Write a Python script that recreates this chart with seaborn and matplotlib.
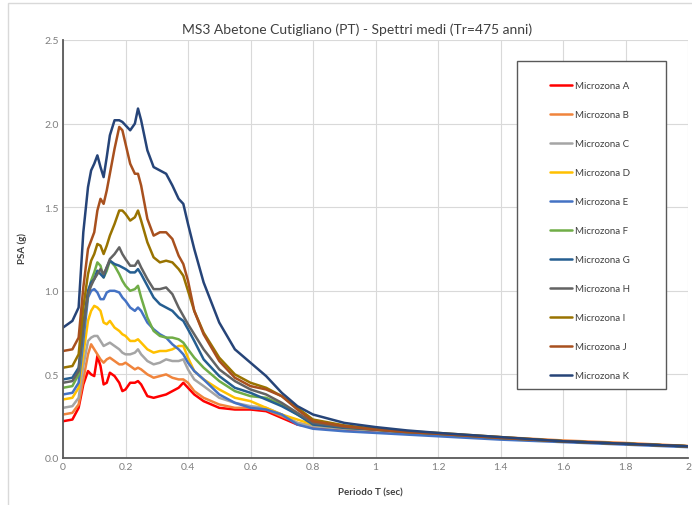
import numpy as np
import pandas as pd
import matplotlib
matplotlib.use("Agg")
import matplotlib.pyplot as plt
from matplotlib.patches import Rectangle
import seaborn as sns

# Periods (s)
periodo = [0, 0.03, 0.05, 0.065, 0.08, 0.09, 0.10, 0.11, 0.12, 0.13, 0.14, 0.15, 0.165,
           0.18, 0.19, 0.20, 0.215, 0.23, 0.24, 0.25, 0.27, 0.29, 0.31, 0.33, 0.35, 0.37,
           0.385, 0.40, 0.42, 0.45, 0.50, 0.55, 0.60, 0.65, 0.70, 0.75, 0.80, 0.90, 1.0,
           1.1, 1.2, 1.4, 1.6, 1.8, 2.0]

# Mean spectral accelerations PSA (g) for each microzone
mz_a = [0.22, 0.23, 0.30, 0.44, 0.52, 0.50, 0.49, 0.61, 0.55, 0.44, 0.45, 0.51, 0.49,
        0.45, 0.40, 0.41, 0.45, 0.45, 0.46, 0.44, 0.37, 0.36, 0.37, 0.38, 0.40, 0.42,
        0.45, 0.42, 0.38, 0.34, 0.30, 0.29, 0.29, 0.28, 0.24, 0.20, 0.185, 0.17, 0.16,
        0.145, 0.14, 0.12, 0.10, 0.085, 0.07]
mz_b = [0.26, 0.27, 0.32, 0.47, 0.62, 0.68, 0.65, 0.62, 0.59, 0.57, 0.59, 0.60, 0.58,
        0.56, 0.56, 0.57, 0.55, 0.53, 0.54, 0.53, 0.50, 0.48, 0.49, 0.50, 0.48, 0.47,
        0.47, 0.45, 0.40, 0.36, 0.32, 0.30, 0.30, 0.29, 0.25, 0.21, 0.19, 0.175, 0.165,
        0.155, 0.145, 0.125, 0.105, 0.09, 0.072]
mz_c = [0.30, 0.31, 0.36, 0.55, 0.70, 0.72, 0.73, 0.73, 0.70, 0.67, 0.68, 0.69, 0.67,
        0.65, 0.63, 0.62, 0.62, 0.63, 0.65, 0.62, 0.58, 0.56, 0.57, 0.59, 0.58, 0.58,
        0.59, 0.53, 0.47, 0.43, 0.36, 0.33, 0.31, 0.30, 0.26, 0.21, 0.19, 0.175, 0.165,
        0.15, 0.14, 0.12, 0.10, 0.085, 0.07]
mz_d = [0.35, 0.36, 0.42, 0.62, 0.82, 0.88, 0.91, 0.90, 0.88, 0.81, 0.80, 0.82, 0.78,
        0.76, 0.74, 0.73, 0.70, 0.70, 0.71, 0.69, 0.65, 0.63, 0.64, 0.64, 0.65, 0.67,
        0.67, 0.60, 0.52, 0.47, 0.41, 0.36, 0.34, 0.30, 0.26, 0.23, 0.20, 0.18, 0.17,
        0.155, 0.145, 0.12, 0.10, 0.085, 0.07]
mz_e = [0.38, 0.39, 0.45, 0.70, 0.96, 1.00, 1.01, 0.99, 0.95, 0.95, 0.99, 1.00, 1.00,
        0.99, 0.96, 0.94, 0.90, 0.88, 0.90, 0.88, 0.81, 0.77, 0.74, 0.72, 0.68, 0.65,
        0.62, 0.57, 0.52, 0.47, 0.38, 0.33, 0.30, 0.29, 0.26, 0.20, 0.175, 0.16, 0.15,
        0.14, 0.13, 0.11, 0.095, 0.08, 0.065]
mz_f = [0.42, 0.43, 0.50, 0.78, 0.98, 1.06, 1.11, 1.17, 1.15, 1.08, 1.12, 1.18, 1.15,
        1.10, 1.06, 1.03, 1.00, 1.01, 1.03, 0.96, 0.84, 0.76, 0.73, 0.72, 0.72, 0.71,
        0.69, 0.65, 0.60, 0.54, 0.46, 0.40, 0.37, 0.36, 0.32, 0.26, 0.21, 0.185, 0.17,
        0.155, 0.145, 0.12, 0.10, 0.085, 0.07]
mz_g = [0.47, 0.48, 0.54, 0.80, 1.00, 1.05, 1.07, 1.12, 1.10, 1.08, 1.14, 1.18, 1.16,
        1.15, 1.14, 1.13, 1.11, 1.11, 1.13, 1.10, 1.03, 0.96, 0.92, 0.90, 0.88, 0.84,
        0.82, 0.77, 0.70, 0.59, 0.49, 0.42, 0.39, 0.35, 0.31, 0.26, 0.20, 0.18, 0.17,
        0.155, 0.145, 0.12, 0.10, 0.085, 0.07]
mz_h = [0.45, 0.46, 0.52, 0.78, 0.98, 1.03, 1.07, 1.10, 1.13, 1.10, 1.14, 1.19, 1.22,
        1.26, 1.22, 1.19, 1.15, 1.15, 1.18, 1.14, 1.07, 1.01, 1.01, 1.02, 0.98, 0.90,
        0.85, 0.80, 0.74, 0.65, 0.53, 0.46, 0.41, 0.38, 0.33, 0.27, 0.21, 0.185, 0.17,
        0.155, 0.145, 0.12, 0.10, 0.085, 0.07]
mz_i = [0.54, 0.55, 0.62, 0.90, 1.10, 1.18, 1.22, 1.28, 1.27, 1.22, 1.27, 1.33, 1.40,
        1.48, 1.48, 1.46, 1.42, 1.44, 1.48, 1.42, 1.29, 1.20, 1.17, 1.18, 1.17, 1.13,
        1.09, 1.00, 0.88, 0.75, 0.60, 0.50, 0.45, 0.42, 0.37, 0.30, 0.23, 0.195, 0.175,
        0.16, 0.15, 0.125, 0.10, 0.085, 0.07]
mz_j = [0.64, 0.65, 0.72, 1.02, 1.25, 1.30, 1.35, 1.48, 1.55, 1.52, 1.60, 1.70, 1.85,
        1.98, 1.96, 1.88, 1.76, 1.70, 1.70, 1.63, 1.43, 1.33, 1.35, 1.35, 1.31, 1.21,
        1.16, 1.06, 0.88, 0.74, 0.58, 0.48, 0.43, 0.41, 0.37, 0.29, 0.22, 0.19, 0.17,
        0.155, 0.145, 0.12, 0.10, 0.085, 0.07]
mz_k = [0.78, 0.82, 0.90, 1.35, 1.62, 1.72, 1.76, 1.81, 1.74, 1.68, 1.80, 1.93, 2.02,
        2.02, 2.01, 1.99, 1.96, 2.00, 2.09, 2.02, 1.84, 1.74, 1.72, 1.70, 1.63, 1.55,
        1.52, 1.40, 1.25, 1.05, 0.81, 0.65, 0.57, 0.49, 0.39, 0.31, 0.26, 0.21, 0.185,
        0.165, 0.15, 0.125, 0.10, 0.085, 0.07]

zone_names = ["Microzona A", "Microzona B", "Microzona C", "Microzona D", "Microzona E",
              "Microzona F", "Microzona G", "Microzona H", "Microzona I", "Microzona J",
              "Microzona K"]
zone_values = [mz_a, mz_b, mz_c, mz_d, mz_e, mz_f, mz_g, mz_h, mz_i, mz_j, mz_k]
zone_colors = ["#FF0000", "#F0843C", "#A5A5A5", "#FFC000", "#4472C4", "#70AD47",
               "#255E91", "#636363", "#997300", "#A8501E", "#264478"]

x_ticks = [0, 0.2, 0.4, 0.6, 0.8, 1.0, 1.2, 1.4, 1.6, 1.8, 2.0]
x_tick_labels = ["0", "0.2", "0.4", "0.6", "0.8", "1", "1.2", "1.4", "1.6", "1.8", "2"]
y_ticks = [0.0, 0.5, 1.0, 1.5, 2.0, 2.5]
y_tick_labels = ["0.0", "0.5", "1.0", "1.5", "2.0", "2.5"]

frames = [pd.DataFrame({"T": periodo, "PSA": vals, "zona": name})
          for name, vals in zip(zone_names, zone_values)]
data = pd.concat(frames, ignore_index=True)

sns.set_theme(style="white")
plt.rcParams["font.family"] = ["Lato", "DejaVu Sans"]

W, H = 692, 506
fig = plt.figure(figsize=(W / 100, H / 100), dpi=100)
ax = fig.add_axes([63 / W, 1 - 459 / H, 625 / W, 418 / H])

# outer chart-area border
fig.patches.append(Rectangle((8 / W, -0.05), 1.2, 1 - 4 / H + 0.05,
                             transform=fig.transFigure, fill=False,
                             edgecolor="#D9D9D9", linewidth=1.0))

sns.lineplot(data=data, x="T", y="PSA", hue="zona", hue_order=zone_names,
             palette=dict(zip(zone_names, zone_colors)), linewidth=1.8,
             ax=ax, sort=False, estimator=None, legend=True)

ax.set_xlim(0, 2)
ax.set_ylim(0, 2.5)
ax.set_xticks(x_ticks)
ax.set_xticklabels(x_tick_labels)
ax.set_yticks(y_ticks)
ax.set_yticklabels(y_tick_labels)
ax.grid(True, color="#D9D9D9", linewidth=0.8)
ax.set_axisbelow(True)
for side in ["top", "right"]:
    ax.spines[side].set_visible(False)
for side in ["left", "bottom"]:
    ax.spines[side].set_color("#595959")
    ax.spines[side].set_linewidth(1.3)
ax.tick_params(axis="both", labelsize=7.5, colors="#7F7F7F", length=0, pad=3)

ax.set_xlabel("")
ax.set_ylabel("")
fig.text(370 / W, 1 - 493 / H, "Periodo T (sec)", ha="center", va="center",
         fontsize=7, fontweight="bold", color="#404040")
fig.text(22 / W, 1 - 248 / H, "PSA (g)", ha="center", va="center", rotation=90,
         fontsize=7, fontweight="bold", color="#404040")
fig.text(357 / W, 1 - 30 / H, "MS3 Abetone Cutigliano (PT) - Spettri medi (Tr=475 anni)",
         ha="center", va="center", fontsize=10, color="#404040")

# legend box
fig.patches.append(Rectangle((517 / W, 1 - 390 / H), (666 - 517) / W, (390 - 62) / H,
                             transform=fig.transFigure, facecolor="white",
                             edgecolor="#595959", linewidth=1.0, zorder=5))

handles, labels = ax.get_legend_handles_labels()
leg = fig.legend(handles, labels, loc="upper left",
                 bbox_to_anchor=(550 / W, 1 - 82 / H),
                 fontsize=7, frameon=False, labelspacing=2.06,
                 handlelength=2.3, handletextpad=0.25, borderpad=0,
                 borderaxespad=0)
leg.set_zorder(6)
for h in leg.get_lines():
    h.set_linewidth(1.8)
for t in leg.get_texts():
    t.set_color("#404040")
ax.get_legend().remove()

fig.savefig("out.png", dpi=100)
